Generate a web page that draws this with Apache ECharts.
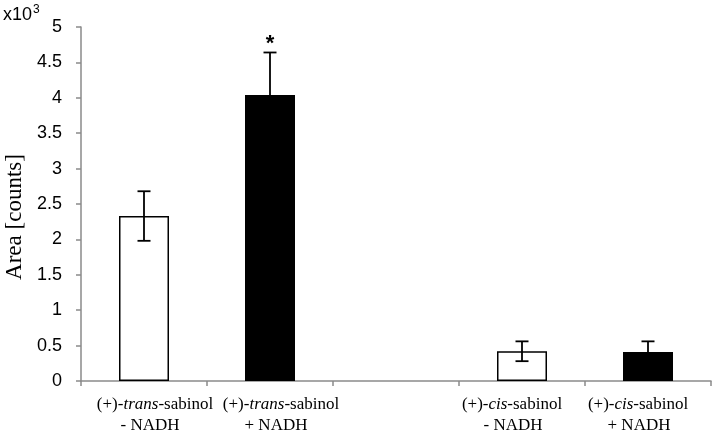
<!DOCTYPE html>
<html>
<head>
<meta charset="utf-8">
<script src="https://cdn.jsdelivr.net/npm/echarts@6/dist/echarts.min.js"></script>
<style>html,body{margin:0;padding:0;background:#fff;}#c{width:714px;height:433px;}</style>
</head>
<body>
<div id="c"></div>
<script>
// ---- data ----
var categories = ['trans-', 'trans+', '', 'cis-', 'cis+'];
var isomers = ['trans', 'trans', '', 'cis', 'cis'];
var nadh = ['- NADH', '+ NADH', '', '- NADH', '+ NADH'];
var means = [2.33, 4.04, null, 0.42, 0.41];
var errors = [0.35, 0.60, null, 0.14, 0.15];
var fills = ['#ffffff', '#000000', null, '#ffffff', '#000000'];
var stars = ['', '*', '', '', ''];
var yTicks = { min: 0, max: 5, interval: 0.5 };

var chart = echarts.init(document.getElementById('c'), null, { renderer: 'canvas' });

var barData = means.map(function (v, i) {
  if (v === null) return '-';
  return { value: v, itemStyle: { color: fills[i], borderColor: '#000', borderWidth: 1.5 } };
});
var errData = [];
means.forEach(function (v, i) {
  if (v !== null) errData.push([i, v, errors[i]]);
});

var base = { fontFamily: 'Liberation Serif', fontSize: 17, color: '#000', lineHeight: 21 };
function st(extra) { var o = {}; for (var k in base) o[k] = base[k]; for (var k2 in extra) o[k2] = extra[k2]; return o; }

var option = {
  animation: false,
  backgroundColor: '#fff',
  grid: { left: 81, right: 3, top: 27, bottom: 52, containLabel: false, outerBoundsMode: 'none' },
  xAxis: {
    type: 'category',
    data: categories,
    boundaryGap: true,
    axisLine: { lineStyle: { color: '#8a8a8a', width: 1.5 } },
    axisTick: { show: true, interval: 0, length: 5, lineStyle: { color: '#8a8a8a', width: 1.5 } },
    axisLabel: {
      interval: 0,
      margin: 13,
      formatter: function (val, idx) {
        if (!isomers[idx]) return '';
        if (isomers[idx] === 'trans') {
          return '{pl|(+)-}{i|trans}{n|-sabinol}\n{pl2|' + nadh[idx] + '}';
        }
        return '{n|(+)-}{i|cis}{pr|-sabinol}\n{pr2|' + nadh[idx] + '}';
      },
      rich: {
        pl: st({ padding: [0, 0, 0, 22] }),
        pl2: st({ padding: [0, 0, 0, 12] }),
        pr: st({ padding: [0, 20, 0, 0] }),
        pr2: st({ padding: [0, 18, 0, 0] }),
        i: st({ fontStyle: 'italic' }),
        n: st({})
      }
    }
  },
  yAxis: {
    type: 'value',
    min: yTicks.min,
    max: yTicks.max,
    interval: yTicks.interval,
    name: 'Area [counts]',
    nameLocation: 'middle',
    nameGap: 53,
    nameTextStyle: { fontFamily: 'Liberation Serif', fontSize: 23, color: '#000', padding: [0, 26, 0, 0] },
    splitLine: { show: false },
    axisLine: { show: true, lineStyle: { color: '#8a8a8a', width: 1.5 } },
    axisTick: { show: true, length: 5, lineStyle: { color: '#8a8a8a', width: 1.5 } },
    axisLabel: { fontFamily: 'Liberation Sans', fontSize: 18, color: '#000', margin: 19 }
  },
  graphic: [{
    type: 'text',
    left: 3,
    top: 4,
    style: {
      text: 'x10{s|3}',
      fontFamily: 'Liberation Sans',
      fontSize: 18,
      fill: '#000',
      rich: { s: { fontFamily: 'Liberation Sans', fontSize: 12, verticalAlign: 'top', padding: [0, 0, 10, 1] } }
    }
  }],
  series: [{
    type: 'bar',
    data: barData,
    barWidth: 50,
    z: 2
  }, {
    type: 'custom',
    z: 5,
    data: errData,
    encode: { x: 0, y: 1 },
    renderItem: function (params, api) {
      var x = api.value(0), y = api.value(1), e = api.value(2);
      var top = api.coord([x, y + e]);
      var bot = api.coord([x, y - e]);
      var hw = 6.5;
      var ls = { stroke: '#000', lineWidth: 1.8 };
      var children = [
        { type: 'line', shape: { x1: top[0], y1: top[1], x2: bot[0], y2: bot[1] }, style: ls },
        { type: 'line', shape: { x1: top[0] - hw, y1: top[1], x2: top[0] + hw, y2: top[1] }, style: ls },
        { type: 'line', shape: { x1: bot[0] - hw, y1: bot[1], x2: bot[0] + hw, y2: bot[1] }, style: ls }
      ];
      var s = stars[x];
      if (s) {
        children.push({
          type: 'text',
          style: { text: s, x: top[0], y: top[1] + 2, align: 'center', verticalAlign: 'bottom',
                   fontFamily: 'Liberation Sans', fontWeight: 'bold', fontSize: 22, fill: '#000' }
        });
      }
      return { type: 'group', children: children };
    }
  }]
};
chart.setOption(option);
</script>
</body>
</html>
